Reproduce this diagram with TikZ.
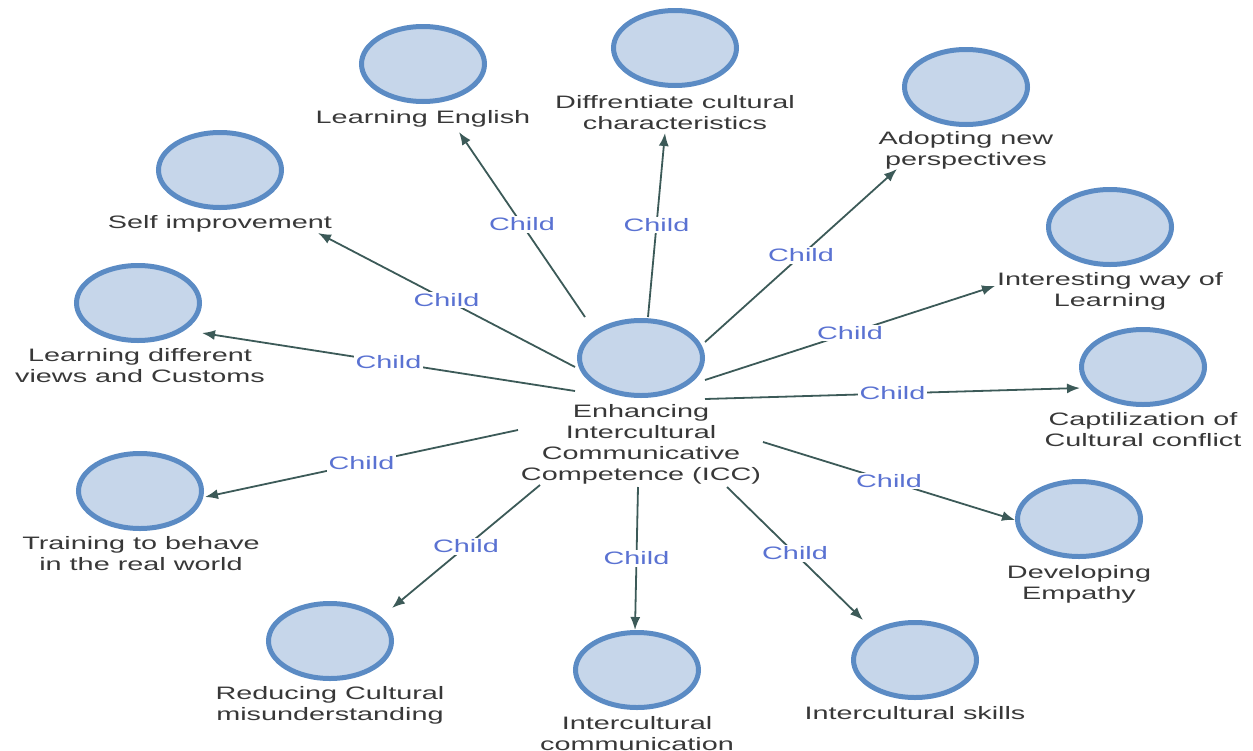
\documentclass[tikz,border=0pt]{standalone}
\usepackage{fontspec}
\usetikzlibrary{shapes.geometric,arrows.meta}
\newfontfamily\labfont[FakeStretch=1.6]{Liberation Sans}
\definecolor{bubblefill}{HTML}{C6D6EA}
\definecolor{bubbleedge}{HTML}{5B8BC4}
\definecolor{linkcol}{HTML}{3C5A58}
\definecolor{childcol}{HTML}{5A72D2}
\definecolor{textcol}{HTML}{383838}
\tikzset{
  bubble/.style={ellipse, draw=bubbleedge, fill=bubblefill, line width=5pt,
    minimum width=123pt, minimum height=75pt, inner sep=0pt},
  caption/.style={anchor=north, align=center, inner sep=0pt, text=textcol,
    font=\labfont\fontsize{18}{21}\selectfont},
  link/.style={draw=linkcol, line width=1.8pt, -{Latex[length=13pt,width=10pt]}},
  childtag/.style={fill=white, inner sep=1.5pt, text=childcol,
    font=\labfont\fontsize{18}{21}\selectfont},
}
\begin{document}
\begin{tikzpicture}[x=1pt,y=-1pt]
\useasboundingbox (0,0) rectangle (1253,750);

% bubbles
\node[bubble] (icc)  at (641,358) {};
\node[bubble] (eng)  at (423,64)  {};
\node[bubble] (diff) at (675,48)  {};
\node[bubble] (adopt) at (966,87) {};
\node[bubble] (self) at (220,170) {};
\node[bubble] (inter) at (1110,227) {};
\node[bubble] (views) at (138,303) {};
\node[bubble] (capt) at (1143,367) {};
\node[bubble] (train) at (140,491) {};
\node[bubble] (empa) at (1079,519) {};
\node[bubble] (redu) at (330,641) {};
\node[bubble] (comm) at (637,670) {};
\node[bubble] (skill) at (915,660) {};

% captions
\node[caption] (iccT)  at (641,404) {Enhancing\\Intercultural\\Communicative\\Competence (ICC)};
\node[caption] (engT)  at (423,110) {Learning English};
\node[caption] (diffT) at (675,95)  {Diffrentiate cultural\\characteristics};
\node[caption] (adoptT) at (966,131) {Adopting new\\perspectives};
\node[caption] (selfT) at (220,215) {Self improvement};
\node[caption] (interT) at (1110,272) {Interesting way of\\Learning};
\node[caption] (viewsT) at (140,348) {Learning different\\views and Customs};
\node[caption] (captT) at (1143,412) {Captilization of\\Cultural conflict};
\node[caption] (trainT) at (141,536) {Training to behave\\in the real world};
\node[caption] (empaT) at (1079,565) {Developing\\Empathy};
\node[caption] (reduT) at (330,686) {Reducing Cultural\\misunderstanding};
\node[caption] (commT) at (637,716) {Intercultural\\communication};
\node[caption] (skillT) at (915,706) {Intercultural skills};

% connector ends
\coordinate (s1)  at (585,317);  \coordinate (t1)  at (459,132);
\coordinate (s2)  at (648,317);  \coordinate (t2)  at (665,133);
\coordinate (s3)  at (705,342);  \coordinate (t3)  at (897,169);
\coordinate (s4)  at (575,367);  \coordinate (t4)  at (318,233);
\coordinate (s5)  at (705,380);  \coordinate (t5)  at (995,286);
\coordinate (s6)  at (575,391);  \coordinate (t6)  at (202,333);
\coordinate (s7)  at (705,399);  \coordinate (t7)  at (1080,388);
\coordinate (s8)  at (518,430);  \coordinate (t8)  at (205,497);
\coordinate (s9)  at (763,442);  \coordinate (t9)  at (1015,520);
\coordinate (s10) at (540,485);  \coordinate (t10) at (392,608);
\coordinate (s11) at (638,487);  \coordinate (t11) at (635,630);
\coordinate (s12) at (727,487);  \coordinate (t12) at (863,620);

% connectors
\foreach \i in {1,...,12}{
  \draw[link] (s\i) -- node[childtag]{Child} (t\i);
}
\end{tikzpicture}
\end{document}
